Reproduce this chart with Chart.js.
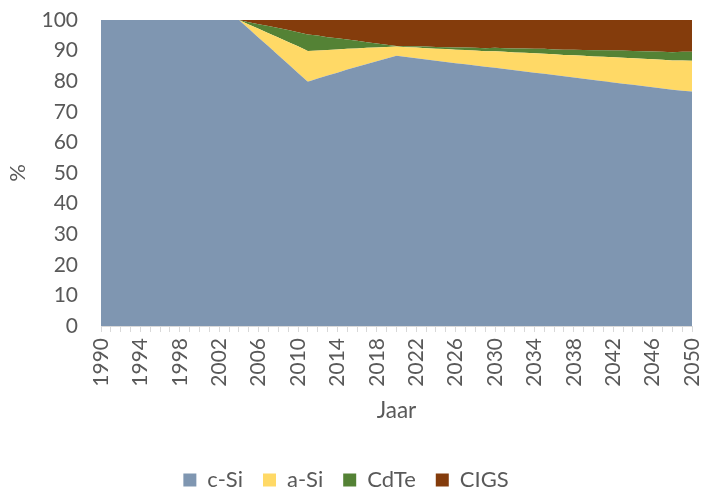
<!DOCTYPE html>
<html>
<head>
<meta charset="utf-8">
<script src="https://cdn.jsdelivr.net/npm/chart.js@4/dist/chart.umd.min.js"></script>
<style>
  html, body { margin: 0; padding: 0; background: #fff; }
  #wrap { width: 701px; height: 491px; position: relative; }
</style>
</head>
<body>
<div id="wrap"><canvas id="chart"></canvas></div>
<script>
// ------------------------------------------------------------
// Marktaandeel PV-technologieen (%), 1990 - 2050
// ------------------------------------------------------------

const YEARS = [];
for (let y = 1990; y <= 2050; y++) YEARS.push(String(y));

const C_SI = [
  100, 100, 100, 100, 100, 100, 100, 100, 100, 100,            // 1990-1999
  100, 100, 100, 100, 100, 97.1, 94.2, 91.4, 88.5, 85.6,       // 2000-2009
  82.7, 79.8, 80.9, 81.9, 82.8, 83.8, 84.7, 85.6, 86.5, 87.4,  // 2010-2019
  88.3, 87.9, 87.5, 87.1, 86.7, 86.3, 85.9, 85.5, 85.1, 84.7,  // 2020-2029
  84.4, 84.0, 83.6, 83.2, 82.8, 82.4, 82.0, 81.6, 81.2, 80.8,  // 2030-2039
  80.4, 80.0, 79.6, 79.2, 78.8, 78.4, 78.0, 77.6, 77.2, 76.9,  // 2040-2049
  76.6                                                         // 2050
];

const A_SI = [
  0, 0, 0, 0, 0, 0, 0, 0, 0, 0,
  0, 0, 0, 0, 0, 1.4, 2.9, 4.3, 5.8, 7.2,
  8.7, 10.1, 9.1, 8.3, 7.6, 6.8, 6.0, 5.3, 4.5, 3.8,
  3.0, 3.2, 3.5, 3.7, 3.9, 4.2, 4.4, 4.7, 4.9, 5.1,
  5.4, 5.6, 5.8, 6.1, 6.3, 6.6, 6.8, 7.0, 7.3, 7.5,
  7.7, 8.0, 8.2, 8.5, 8.7, 8.9, 9.2, 9.4, 9.6, 9.9,
  10.1
];

const CDTE = [
  0, 0, 0, 0, 0, 0, 0, 0, 0, 0,
  0, 0, 0, 0, 0, 0.8, 1.5, 2.3, 3.1, 3.9,
  4.6, 5.4, 4.9, 4.2, 3.6, 3.0, 2.5, 1.8, 1.3, 0.7,
  0.2, 0.3, 0.4, 0.5, 0.6, 0.6, 0.7, 0.8, 0.9, 1.0,
  1.1, 1.2, 1.3, 1.4, 1.5, 1.6, 1.6, 1.7, 1.8, 1.9,
  2.0, 2.1, 2.2, 2.3, 2.4, 2.5, 2.5, 2.6, 2.7, 2.8,
  2.9
];

const CIGS = [
  0, 0, 0, 0, 0, 0, 0, 0, 0, 0,
  0, 0, 0, 0, 0, 0.7, 1.4, 2.0, 2.6, 3.3,
  4.0, 4.7, 5.1, 5.6, 6.0, 6.4, 6.8, 7.3, 7.7, 8.1,
  8.5, 8.6, 8.6, 8.7, 8.8, 8.9, 9.0, 9.0, 9.1, 9.2,
  9.1, 9.2, 9.3, 9.3, 9.4, 9.4, 9.6, 9.7, 9.7, 9.8,
  9.9, 9.9, 10.0, 10.0, 10.1, 10.2, 10.3, 10.4, 10.5, 10.4,
  10.4
];

const SERIES_LABELS = ["c-Si", "a-Si", "CdTe", "CIGS"];
const SERIES_COLORS = ["#7F96B1", "#FFD966", "#548235", "#843C0C"];

const Y_TICKS = [0, 10, 20, 30, 40, 50, 60, 70, 80, 90, 100];

const INK = "#595959";
const FONT = "Lato, 'Open Sans', sans-serif";

function areaSet(i, data) {
  return {
    label: SERIES_LABELS[i],
    data: data,
    backgroundColor: SERIES_COLORS[i],
    borderColor: SERIES_COLORS[i],
    borderWidth: 0,
    pointRadius: 0,
    tension: 0,
    fill: i === 0 ? "origin" : "-1",
  };
}

new Chart(document.getElementById("chart"), {
  type: "line",
  data: {
    labels: YEARS,
    datasets: [
      areaSet(0, C_SI),
      areaSet(1, A_SI),
      areaSet(2, CDTE),
      areaSet(3, CIGS),
    ],
  },
  options: {
    responsive: true,
    maintainAspectRatio: false,
    animation: false,
    layout: { padding: { top: 20, right: 9, left: 0, bottom: 0 } },
    plugins: {
      tooltip: { enabled: false },
      legend: {
        position: "bottom",
        maxHeight: 42,
        labels: {
          color: INK,
          font: { family: FONT, size: 22 },
          boxWidth: 13,
          boxHeight: 13,
          padding: 20,
        },
      },
    },
    scales: {
      x: {
        offset: false,
        afterFit: (s) => { s.height = 123; s.paddingLeft = 0; s.paddingRight = 0; },
        grid: {
          display: true,
          drawOnChartArea: false,
          tickLength: 6,
          color: "#D9D9D9",
        },
        border: { color: "#D9D9D9" },
        ticks: {
          autoSkip: false,
          minRotation: 90,
          maxRotation: 90,
          padding: 6,
          color: INK,
          font: { family: FONT, size: 21 },
          callback: function (v, i) { return i % 4 === 0 ? YEARS[i] : ""; },
        },
        title: {
          display: true,
          text: "Jaar",
          color: INK,
          font: { family: FONT, size: 22.5 },
          padding: { top: 6, bottom: 25 },
        },
      },
      y: {
        stacked: true,
        min: 0,
        max: 100,
        afterFit: (s) => { s.width = 101; s.paddingTop = 0; s.paddingBottom = 0; },
        afterBuildTicks: (axis) => { axis.ticks = Y_TICKS.map(v => ({ value: v })); },
        grid: { color: "#D9D9D9", drawTicks: false },
        border: { display: false },
        ticks: {
          padding: 23,
          color: INK,
          font: { family: FONT, size: 21 },
        },
        title: {
          display: true,
          text: "%",
          color: INK,
          font: { family: FONT, size: 22 },
          padding: { top: 5, bottom: 0 },
        },
      },
    },
  },
});
</script>
</body>
</html>
